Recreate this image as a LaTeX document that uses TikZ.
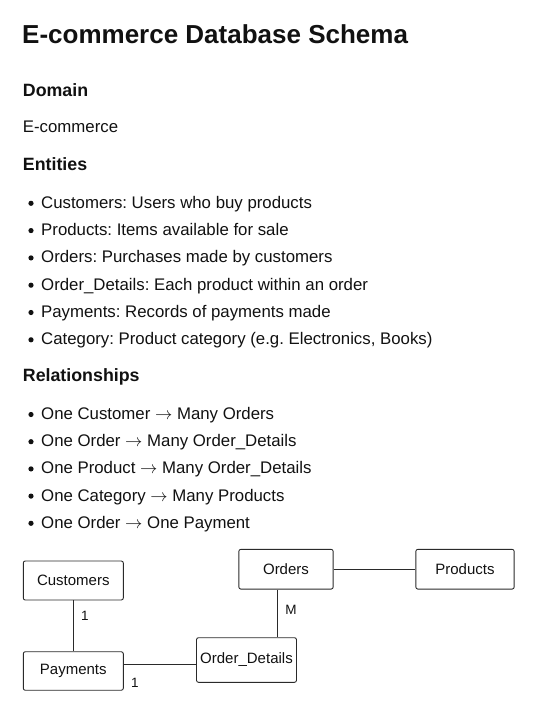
\documentclass[tikz,border=0pt]{standalone}
\usepackage{fontspec}
\setmainfont{Liberation Sans}
\frenchspacing
\definecolor{ink}{HTML}{111111}
\definecolor{edge}{HTML}{2A2A2A}
\newcommand{\relto}{$\rightarrow$}
\begin{document}
\begin{tikzpicture}[x=1pt,y=-1pt,
  txt/.style={anchor=base west,inner sep=0pt,text=ink,font=\fontsize{16.8}{20}\selectfont},
  head/.style={anchor=base west,inner sep=0pt,text=ink,font=\fontsize{17.8}{21}\selectfont\bfseries},
  entity/.style={draw=edge,line width=0.9pt,rounded corners=2pt,inner sep=0pt,text=ink,
    minimum width=100pt,minimum height=39pt,font=\fontsize{15}{18}\selectfont},
  card/.style={inner sep=0pt,text=ink,font=\fontsize{13.5}{16}\selectfont},
  link/.style={draw=edge,line width=0.9pt}]
\useasboundingbox (0,0) rectangle (542,702);
% heading and lists
\node[anchor=base west,inner sep=0pt,text=ink,font=\fontsize{26}{30}\selectfont\bfseries] (title) at (22,43.5) {E-commerce Database Schema};
\node[head] (domain) at (22.7,96) {Domain};
\node[txt] (domaintxt) at (22.7,132.7) {E-commerce};
\node[head] (entities) at (22.7,170.7) {Entities};
\fill[ink] (31,203.3) circle (2.6);
\node[txt] (ent1) at (41,208.3) {Customers: Users who buy products};
\fill[ink] (31,230.6) circle (2.6);
\node[txt] (ent2) at (41,235.6) {Products: Items available for sale};
\fill[ink] (31,257.9) circle (2.6);
\node[txt] (ent3) at (41,262.9) {Orders: Purchases made by customers};
\fill[ink] (31,285.2) circle (2.6);
\node[txt] (ent4) at (41,290.2) {Order\_Details: Each product within an order};
\fill[ink] (31,312.5) circle (2.6);
\node[txt] (ent5) at (41,317.5) {Payments: Records of payments made};
\fill[ink] (31,339.8) circle (2.6);
\node[txt] (ent6) at (41,344.8) {Category: Product category (e.g. Electronics, Books)};
\node[head] (relations) at (22.7,381.7) {Relationships};
\fill[ink] (31,414.5) circle (2.6);
\node[txt] (rel1) at (41,419.5) {One Customer \relto{} Many Orders};
\fill[ink] (31,441.7) circle (2.6);
\node[txt] (rel2) at (41,446.7) {One Order \relto{} Many Order\_Details};
\fill[ink] (31,468.9) circle (2.6);
\node[txt] (rel3) at (41,473.9) {One Product \relto{} Many Order\_Details};
\fill[ink] (31,496.1) circle (2.6);
\node[txt] (rel4) at (41,501.1) {One Category \relto{} Many Products};
\fill[ink] (31,523.3) circle (2.6);
\node[txt] (rel5) at (41,528.3) {One Order \relto{} One Payment};
% schema boxes
\node[entity] (customers) at (73.3,580.5) {Customers};
\node[entity,minimum height=38.5pt] (payments) at (73.3,671) {Payments};
\node[entity,minimum height=44.6pt] (orderdetails) at (246.5,660) {Order\_Details};
\node[entity,minimum width=94.3pt,minimum height=39.7pt] (orders) at (286,569.2) {Orders};
\node[entity,minimum width=98.3pt,minimum height=39.7pt] (products) at (465,569.2) {Products};
% links
\draw[link] (customers) -- (payments);
\draw[link] ([yshift=7pt]payments.east) -- ([yshift=7pt]payments.east -| orderdetails.west);
\draw[link] ([xshift=-8.7pt]orders.south) -- ([xshift=-8.7pt]orders.south |- orderdetails.north);
\draw[link] (orders) -- (products);
\node[card] (c1) at (85,616) {1};
\node[card] (c2) at (135,682.7) {1};
\node[card] (cm) at (291,610) {M};
\end{tikzpicture}
\end{document}
